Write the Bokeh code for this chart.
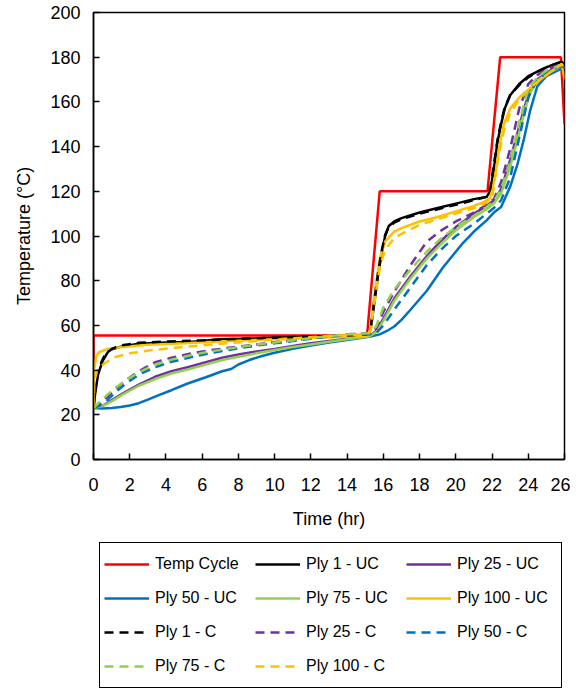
from bokeh.plotting import figure
from bokeh.layouts import column
from bokeh.models import Range1d, Legend, LegendItem, SingleIntervalTicker
from bokeh.embed import file_html
from bokeh.resources import INLINE

# temperature cycle set point
t_cycle = [0, 0, 15.1, 15.8, 21.75, 22.45, 25.8, 26.0]
T_cycle = [23, 55.5, 55.5, 120, 120, 180, 180, 150]

# ply 1 (black)
t_p1_uc = [0, 0.1, 0.25, 0.5, 0.85, 1.5, 2.5, 4, 5.3, 7, 9, 11, 13, 15.1, 15.3, 15.5, 15.7, 15.9, 16.1, 16.3,
           16.6, 17, 18, 19, 20, 21, 21.7, 21.9, 22.1, 22.3, 22.5, 22.7, 23, 23.5, 24, 24.5, 25, 25.5, 25.85, 26]
T_p1_uc = [23, 30, 38, 44, 48.8, 50.5, 51.8, 52.3, 52.6, 53.8, 54.2, 54.7, 55.1, 55.5, 58, 70, 82, 92, 100, 104.5,
           106.5, 108, 110.5, 112.5, 114.5, 116.5, 117.5, 120, 130, 142, 150, 157, 163, 168, 171.5, 173.5, 175.5, 177, 178, 176]
t_p1_c = [0, 0.1, 0.3, 0.6, 1, 1.5, 2.5, 4, 6, 8, 10, 12, 14, 15.1, 15.3, 15.5, 15.7, 15.9, 16.1, 16.3,
          16.6, 17, 18, 19, 20, 21, 21.7, 21.9, 22.1, 22.3, 22.5, 22.7, 23, 23.5, 24, 24.5, 25, 25.5, 25.85, 26]
T_p1_c = [23, 32, 41, 46.5, 49.5, 51, 52.2, 52.8, 53.3, 54, 54.5, 55, 55.5, 56, 59, 71, 83, 93, 100.5, 104,
          106, 107.5, 110, 112, 114, 116, 117.5, 121, 132, 143, 151, 157.5, 163, 167.5, 171, 173.5, 175.5, 177, 178, 176]

# ply 100 (yellow)
t_p100_uc = [0, 0.03, 0.15, 0.3, 0.8, 1.6, 3, 5, 7, 10, 13, 15.1, 15.3, 15.5, 15.8, 16.1, 16.6, 17, 18, 19, 20, 21,
             21.5, 21.9, 22.2, 22.4, 22.65, 23, 23.5, 24, 24.5, 25, 25.5, 25.85, 26]
T_p100_uc = [23, 40, 46, 48, 49.5, 50.3, 51.3, 52, 52.8, 53.8, 54.7, 55.3, 58, 73, 90, 97.5, 102, 103.5, 106.5, 108.5, 111, 113.5,
             115, 117, 128, 140, 150, 157, 162, 165.5, 169, 172, 175, 177, 170]
t_p100_c = [0, 0.05, 0.2, 0.6, 1.2, 2, 3.4, 5.3, 7, 9, 11, 13, 15.1, 15.3, 15.5, 15.8, 16.1, 16.6, 17, 18, 19, 20, 21,
            21.5, 22, 22.3, 22.65, 23, 23.5, 24, 24.5, 25, 25.5, 25.85, 26]
T_p100_c = [23, 35, 40, 43, 45.8, 47.5, 49.1, 50.6, 51.8, 53, 54.2, 55.3, 56, 58, 70, 86, 94, 99, 101, 105, 107.5, 110, 112.5,
            114, 117, 133, 147, 155, 161, 165.5, 169, 172, 175, 177, 175]

# ply 25 (purple) and ply 75 (green), uncured
t_mid_uc = [0, 0.5, 1, 1.6, 2.5, 3.4, 4.3, 5.3, 6.2, 7.1, 8, 9, 10, 11, 12, 13, 14, 15.2, 15.6, 16, 16.6, 17.5, 18.4,
            19.2, 20, 21, 21.7, 22.1, 22.5, 23, 23.4, 23.8, 24.1, 24.5, 25, 25.5, 25.85, 26]
T_p25_uc = [23, 24, 26.5, 29.5, 33.5, 37, 39.5, 41.5, 43.5, 45.5, 47, 48.3, 49.5, 50.8, 52, 53, 54, 55, 57.5, 63, 72, 82, 91,
            98, 104, 110, 113.5, 116, 121, 134, 146, 158, 165, 170, 173, 175.5, 176.5, 175]
T_p75_uc = [23, 24, 26, 29, 33, 36, 38.5, 40.5, 42.5, 44.5, 46, 47.5, 49, 50.3, 51.5, 52.7, 53.8, 55, 57, 62, 71, 81, 90,
            96.5, 102.5, 108.5, 112, 114.5, 119, 131, 143, 156, 164, 169.5, 172.5, 174.5, 176, 175]

# ply 50 (blue), uncured
t_p50_uc = [0, 0.5, 1, 1.5, 2, 2.5, 3, 3.5, 4.3, 5.2, 6.2, 7.1, 7.6, 8, 8.6, 9.3, 10, 11, 12, 13, 14, 15.3, 15.8,
            16.2, 16.6, 17, 17.5, 18.4, 19.3, 20.3, 21, 21.7, 22.1, 22.5, 23, 23.4, 23.75, 24.1, 24.5, 25, 25.5, 25.85, 26]
T_p50_uc = [23, 22.8, 23, 23.5, 24.2, 25.2, 26.8, 28.5, 31, 34, 36.8, 39.5, 40.5, 42.5, 44.5, 46.3, 47.8, 49.5, 51, 52.3, 53.5, 55, 56,
            57.5, 59.5, 62.5, 67, 75.5, 86, 96, 102, 107, 110.5, 113, 122, 132, 143, 156, 167, 171.5, 173.5, 175, 175]

# ply 25 / 50 / 75, cured
t_mid_c = [0, 0.3, 0.7, 1.2, 1.8, 2.5, 3.4, 4.3, 5.3, 6.2, 7.1, 8, 9, 10, 11, 12, 13, 14, 15.2, 15.6, 16, 16.6, 17.5,
           18.4, 19.2, 20, 21, 21.7, 22.1, 22.5, 23, 23.5, 24, 24.5, 25, 25.5, 25.85, 26]
T_p25_c = [23, 24.5, 27.5, 31.5, 35.5, 39.5, 43.5, 45.5, 47.3, 48.6, 49.6, 50.5, 51.5, 52.5, 53.4, 54.3, 55.2, 56, 56.5, 58.5, 66, 75, 87,
           97.5, 102.5, 106.5, 110.5, 114, 116.5, 124, 139, 157, 168, 172, 174.5, 176, 177, 175]
T_p50_c = [23, 24, 26, 30, 34, 38, 41.3, 43.7, 45.6, 47.2, 48.5, 49.8, 51, 52, 53, 54, 55, 55.8, 56, 56.5, 60, 67, 77,
           87, 94, 100, 105.5, 110, 112.5, 116, 126, 144, 162, 170, 173, 175, 176, 175]
T_p75_c = [23, 25.5, 28.5, 32, 35.5, 39, 42.5, 44.7, 46.5, 48, 49.2, 50.3, 51.4, 52.4, 53.4, 54.3, 55.2, 56, 56.5, 59.5, 68, 76, 85,
           93, 99, 104, 109, 113, 115.5, 121, 133, 151, 166, 171, 174, 175.5, 176.5, 175]

labels = ["Temp Cycle", "Ply 1 - UC", "Ply 25 - UC", "Ply 50 - UC", "Ply 75 - UC", "Ply 100 - UC",
          "Ply 1 - C", "Ply 25 - C", "Ply 50 - C", "Ply 75 - C", "Ply 100 - C"]

RED = "#FF0000"
BLACK = "#000000"
PURPLE = "#7030A0"
BLUE = "#0070C0"
GREEN = "#92D050"
YELLOW = "#FFC000"
FONT = "Liberation Sans"

p = figure(width=570, height=536, output_backend="svg", toolbar_location=None,
           x_range=Range1d(0, 26), y_range=Range1d(0, 200),
           min_border_left=93, min_border_right=6, min_border_top=12, min_border_bottom=77)
p.xgrid.visible = False
p.ygrid.visible = False
p.outline_line_color = "black"
p.outline_line_width = 1.5
p.outline_line_alpha = 1

p.xaxis.ticker = SingleIntervalTicker(interval=2)
p.yaxis.ticker = SingleIntervalTicker(interval=20)
for ax in (p.xaxis, p.yaxis):
    ax.axis_line_color = "black"
    ax.axis_line_width = 1.5
    ax.major_tick_in = 6
    ax.major_tick_out = 0
    ax.major_tick_line_width = 1.5
    ax.minor_tick_line_color = None
    ax.major_label_text_font = FONT
    ax.major_label_text_font_size = "18px"
    ax.major_label_text_color = "black"
    ax.axis_label_text_font = FONT
    ax.axis_label_text_font_size = "18px"
    ax.axis_label_text_font_style = "normal"
    ax.axis_label_text_color = "black"
p.xaxis.axis_label = "Time (hr)"
p.yaxis.axis_label = "Temperature (°C)"
p.xaxis.major_label_standoff = 14
p.xaxis.axis_label_standoff = 15
p.yaxis.major_label_standoff = 9
p.yaxis.axis_label_standoff = 13

lw = 2.5
dash = "9 6"
styles = [(RED, "solid"), (BLACK, "solid"), (PURPLE, "solid"), (BLUE, "solid"), (GREEN, "solid"), (YELLOW, "solid"),
          (BLACK, dash), (PURPLE, dash), (BLUE, dash), (GREEN, dash), (YELLOW, dash)]
series = [(t_cycle, T_cycle), (t_p1_uc, T_p1_uc), (t_mid_uc, T_p25_uc), (t_p50_uc, T_p50_uc),
          (t_mid_uc, T_p75_uc), (t_p100_uc, T_p100_uc), (t_p1_c, T_p1_c), (t_mid_c, T_p25_c),
          (t_mid_c, T_p50_c), (t_mid_c, T_p75_c), (t_p100_c, T_p100_c)]
for (xs, ys), (c, d) in zip(series, styles):
    p.line(xs, ys, color=c, line_width=lw, line_dash=d)

# legend lives in its own strip below the chart (proxy lines hold a single NaN point)
leg = figure(width=570, height=154, output_backend="svg", toolbar_location=None,
             x_range=Range1d(0, 1), y_range=Range1d(0, 1),
             x_axis_location=None, y_axis_location=None,
             min_border_left=93, min_border_right=6, min_border_top=0, min_border_bottom=0)
leg.xgrid.visible = False
leg.ygrid.visible = False
leg.outline_line_color = None
nan = float("nan")
items = []
for lab, (c, d) in zip(labels, styles):
    r = leg.line([nan], [nan], color=c, line_width=lw, line_dash=d)
    items.append(LegendItem(label=lab, renderers=[r]))
legend = Legend(items=items, ncols=3, orientation="horizontal", location=(6, 2),
                label_text_font=FONT, label_text_font_size="16px", label_text_color="black",
                glyph_width=45, glyph_height=34, label_height=34, label_width=100,
                label_standoff=6, spacing=0, padding=4, margin=0,
                border_line_color="black", border_line_width=1.5, border_line_alpha=1,
                background_fill_alpha=1)
leg.add_layout(legend, "center")

layout = column(p, leg, spacing=0)
open("out.html", "w").write(file_html(layout, INLINE))
